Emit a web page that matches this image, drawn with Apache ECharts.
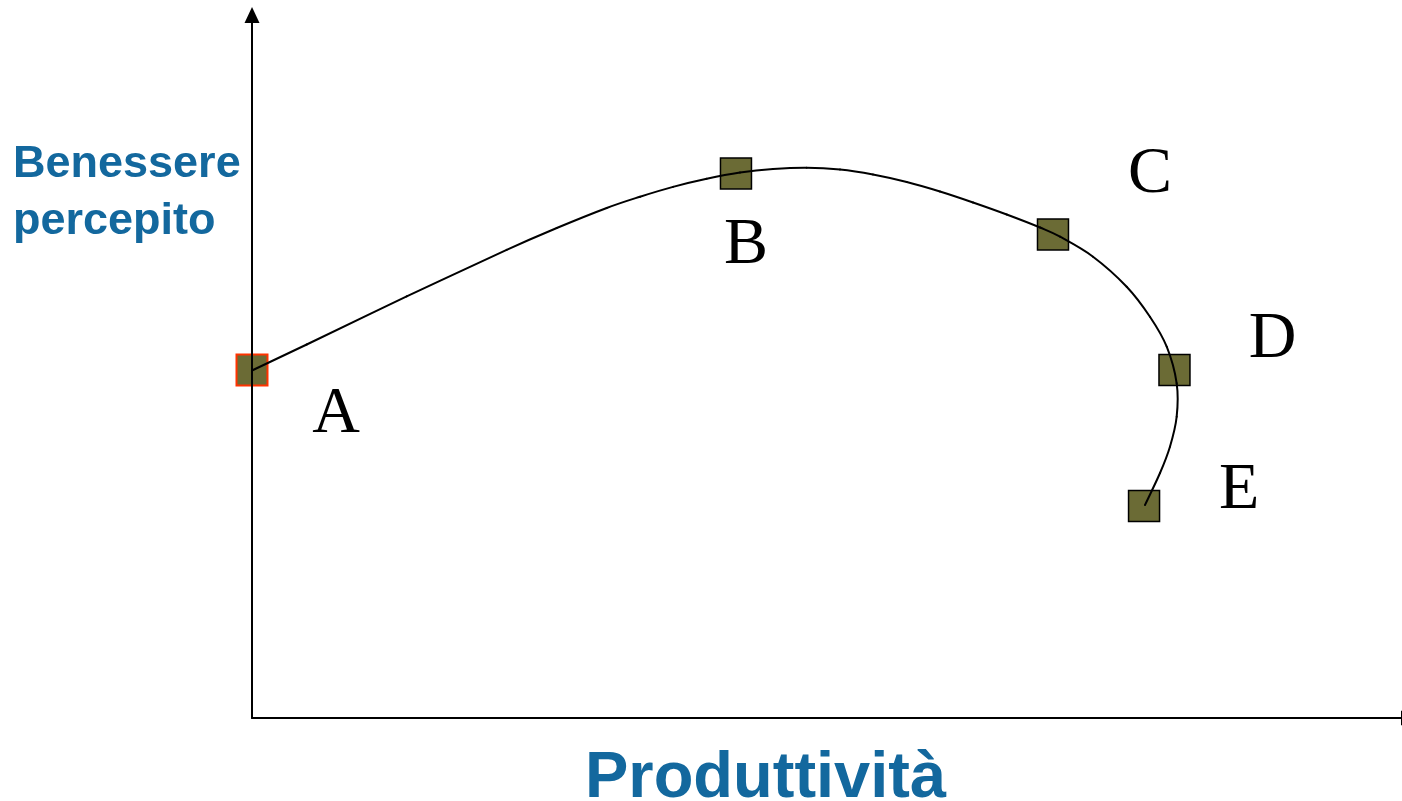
<!DOCTYPE html>
<html>
<head>
<meta charset="utf-8">
<script src="https://cdn.jsdelivr.net/npm/echarts@6/dist/echarts.min.js"></script>
<style>
  html, body { margin: 0; padding: 0; background: #ffffff; }
  #chart { width: 1402px; height: 801px; }
</style>
</head>
<body>
<div id="chart"></div>
<script>
// ---- data (arbitrary units 0..100) ----
const pointNames = ['A', 'B', 'C', 'D', 'E'];
const pointX = [0, 41.83, 69.23, 79.73, 77.10];
const pointY = [49.5, 77.45, 68.78, 49.5, 30.16];

const curveX = [0, 4.73, 13.37, 22.01, 26.34, 30.66, 33.54, 36.39, 39.30, 42.18, 45.03, 47.94, 50.82, 53.67, 56.59, 59.46, 62.32, 65.23, 68.11, 69.84, 72.69, 75.60, 77.61, 79.06, 79.92, 79.92, 79.34, 78.48, 77.18];
const curveY = [49.43, 53.13, 59.97, 66.60, 69.70, 72.55, 74.15, 75.55, 76.70, 77.58, 78.09, 78.28, 78.02, 77.31, 76.24, 74.89, 73.33, 71.62, 69.77, 68.46, 65.62, 61.35, 57.08, 52.82, 47.61, 42.86, 38.59, 34.85, 30.30];

const xTitle = 'Produttività';
const yTitle = 'Benessere\npercepito';

// ---- layout / style (not data) ----
const labelOffsets = [[84, 45], [10, 72], [97, -60], [98, -30], [95, -15]];
const markerBorders = ['#ff3300', '#000000', '#000000', '#000000', '#000000'];
const titleColor = '#13689e';

const chart = echarts.init(document.getElementById('chart'));

const markerData = pointNames.map((n, i) => ({
  name: n,
  value: [pointX[i], pointY[i]],
  itemStyle: { borderColor: markerBorders[i], borderWidth: i === 0 ? 2 : 1.5 },
  label: { offset: labelOffsets[i] }
}));

const curveData = curveX.map((x, i) => [x, curveY[i]]);

// smooth curve through the read points (Catmull-Rom -> cubic Bezier), one segment per item
function renderCurveSegment(params, api) {
  const i = params.dataIndex;
  const n = curveData.length;
  if (i >= n - 1) return null;
  const p0 = api.coord(curveData[Math.max(i - 1, 0)]);
  const p1 = api.coord(curveData[i]);
  const p2 = api.coord(curveData[i + 1]);
  const p3 = api.coord(curveData[Math.min(i + 2, n - 1)]);
  const k = 1 / 6;
  const c1 = [p1[0] + (p2[0] - p0[0]) * k, p1[1] + (p2[1] - p0[1]) * k];
  const c2 = [p2[0] - (p3[0] - p1[0]) * k, p2[1] - (p3[1] - p1[1]) * k];
  return {
    type: 'bezierCurve',
    shape: { x1: p1[0], y1: p1[1], cpx1: c1[0], cpy1: c1[1], cpx2: c2[0], cpy2: c2[1], x2: p2[0], y2: p2[1] },
    style: { stroke: '#000000', lineWidth: 2, fill: null, lineCap: 'round' },
    silent: true
  };
}

const axisCommon = {
  type: 'value',
  min: 0,
  max: 100,
  z: 3,
  axisTick: { show: false },
  axisLabel: { show: false },
  splitLine: { show: false }
};

chart.setOption({
  backgroundColor: '#ffffff',
  animation: false,
  title: [
    {
      text: yTitle,
      left: 8,
      top: 131,
      textStyle: {
        fontFamily: 'Liberation Sans',
        fontWeight: 'bold',
        fontSize: 45,
        lineHeight: 57,
        color: titleColor
      }
    },
    {
      text: xTitle,
      left: 580,
      top: 742,
      textStyle: {
        fontFamily: 'Liberation Sans',
        fontWeight: 'bold',
        fontSize: 65,
        lineHeight: 65,
        color: titleColor
      }
    }
  ],
  grid: { left: 252, top: 15, width: 1157, height: 703, containLabel: false, outerBoundsMode: 'none' },
  xAxis: Object.assign({}, axisCommon, {
    axisLine: {
      show: true,
      symbol: ['none', 'triangle'],
      symbolSize: [15, 16],
      lineStyle: { color: '#000000', width: 2 }
    }
  }),
  yAxis: Object.assign({}, axisCommon, {
    axisLine: {
      show: true,
      symbol: ['none', 'triangle'],
      symbolSize: [15, 16],
      lineStyle: { color: '#000000', width: 2 }
    }
  }),
  series: [
    {
      type: 'scatter',
      z: 1,
      symbol: 'rect',
      symbolSize: 31,
      itemStyle: { color: '#6b6b35', opacity: 1 },
      label: {
        show: true,
        position: 'inside',
        formatter: '{b}',
        fontFamily: 'Liberation Serif',
        fontSize: 66,
        color: '#000000'
      },
      emphasis: { disabled: true },
      data: markerData
    },
    {
      type: 'custom',
      z: 4,
      clip: false,
      renderItem: renderCurveSegment,
      encode: { x: 0, y: 1 },
      data: curveData
    }
  ]
});
</script>
</body>
</html>
